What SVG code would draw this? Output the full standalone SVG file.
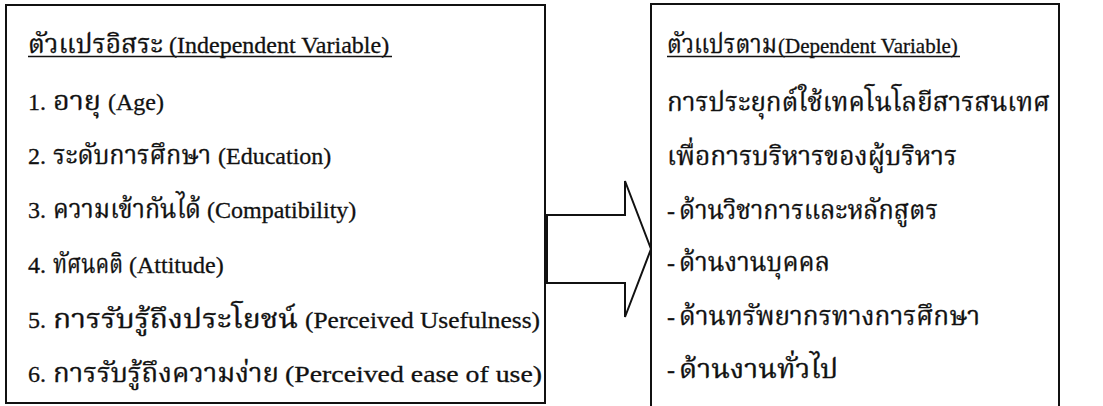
<svg xmlns="http://www.w3.org/2000/svg" width="1103" height="406" viewBox="0 0 1103 406">
  <style>
    .box { fill: #ffffff; stroke: #111111; stroke-width: 2; }
    .arrow { fill: #ffffff; stroke: #111111; stroke-width: 2; stroke-linejoin: miter; }
    .ul { stroke: #111111; stroke-width: 1.5; }
    .t { font-family: "Liberation Serif", "Times New Roman", serif; font-size: 24px; fill: #111111; stroke: #111111; stroke-width: 0.3; }
    .th { font-family: "Noto Serif Thai", "Noto Sans Thai Looped", "Noto Sans Thai", "Liberation Serif", serif; font-size: 26px; }
    .sm { font-size: 21px; }
  </style>
  <rect width="1103" height="406" fill="#ffffff"/>
  <g id="independent">
    <rect class="box" x="6" y="5" width="539" height="398"/>
    <text class="t" y="53"><tspan class="th" x="28" textLength="135" lengthAdjust="spacingAndGlyphs">ตัวแปรอิสระ</tspan> <tspan x="169">(Independent Variable)</tspan></text>
    <line class="ul" x1="28" y1="56.5" x2="392" y2="56.5"/>
    <text class="t" y="110"><tspan x="28">1.</tspan> <tspan class="th" x="53" textLength="48" lengthAdjust="spacingAndGlyphs">อายุ</tspan> <tspan x="108">(Age)</tspan></text>
    <text class="t" y="164"><tspan x="28">2.</tspan> <tspan class="th" x="53" textLength="158" lengthAdjust="spacingAndGlyphs">ระดับการศึกษา</tspan> <tspan x="218">(Education)</tspan></text>
    <text class="t" y="218"><tspan x="28">3.</tspan> <tspan class="th" x="53" textLength="148" lengthAdjust="spacingAndGlyphs">ความเข้ากันได้</tspan> <tspan x="207">(Compatibility)</tspan></text>
    <text class="t" y="273"><tspan x="28">4.</tspan> <tspan class="th" x="53" textLength="70" lengthAdjust="spacingAndGlyphs">ทัศนคติ</tspan> <tspan x="129">(Attitude)</tspan></text>
    <text class="t" y="328"><tspan x="28">5.</tspan> <tspan class="th" x="53" textLength="245" lengthAdjust="spacingAndGlyphs">การรับรู้ถึงประโยชน์</tspan> <tspan x="305" textLength="235" lengthAdjust="spacingAndGlyphs">(Perceived Usefulness)</tspan></text>
    <text class="t" y="382"><tspan x="28">6.</tspan> <tspan class="th" x="53" textLength="226" lengthAdjust="spacingAndGlyphs">การรับรู้ถึงความง่าย</tspan> <tspan x="285" textLength="257" lengthAdjust="spacingAndGlyphs">(Perceived ease of use)</tspan></text>
  </g>
  <g id="dependent">
    <rect class="box" x="651" y="4" width="408" height="410"/>
    <text class="t" y="53"><tspan class="th" x="667" textLength="110" lengthAdjust="spacingAndGlyphs">ตัวแปรตาม</tspan><tspan class="sm" x="778">(Dependent Variable)</tspan></text>
    <line class="ul" x1="667" y1="56.5" x2="960" y2="56.5"/>
    <text class="t th" x="667" y="111" textLength="383" lengthAdjust="spacingAndGlyphs">การประยุกต์ใช้เทคโนโลยีสารสนเทศ</text>
    <text class="t th" x="667" y="165" textLength="290" lengthAdjust="spacingAndGlyphs">เพื่อการบริหารของผู้บริหาร</text>
    <text class="t" y="219"><tspan x="667">-</tspan> <tspan class="th" x="679" textLength="259" lengthAdjust="spacingAndGlyphs">ด้านวิชาการและหลักสูตร</tspan></text>
    <text class="t" y="271"><tspan x="667">-</tspan> <tspan class="th" x="679" textLength="151" lengthAdjust="spacingAndGlyphs">ด้านงานบุคคล</tspan></text>
    <text class="t" y="325"><tspan x="667">-</tspan> <tspan class="th" x="679" textLength="301" lengthAdjust="spacingAndGlyphs">ด้านทรัพยากรทางการศึกษา</tspan></text>
    <text class="t" y="378"><tspan x="667">-</tspan> <tspan class="th" x="679" textLength="159" lengthAdjust="spacingAndGlyphs">ด้านงานทั่วไป</tspan></text>
  </g>
  <g id="connectors">
    <polygon class="arrow" points="547,215 625,215 625,181 651,249 625,317 625,283 547,283"/>
  </g>
</svg>
